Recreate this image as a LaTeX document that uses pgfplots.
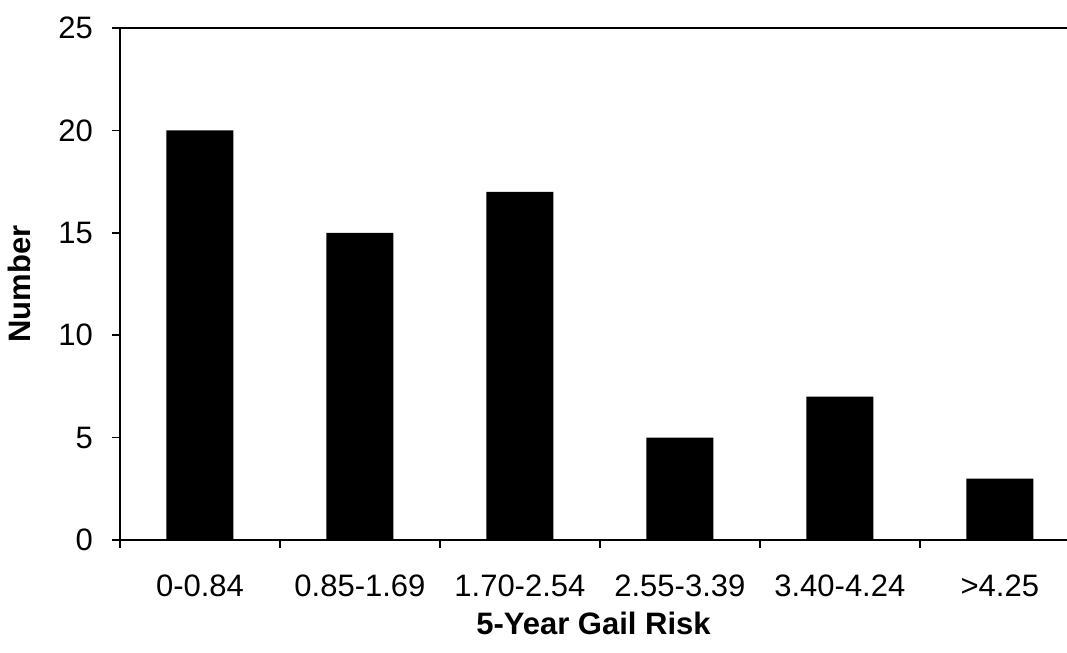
\documentclass[border=0pt]{standalone}
\usepackage{pgfplots}
\pgfplotsset{compat=1.18}
\usepackage{fontspec}
\setmainfont{Liberation Sans}

\begin{document}
\begin{tikzpicture}
  \begin{axis}[
    name=ax,
    scale only axis,
    width=473.5pt, height=256pt,
    axis x line*=box,
    axis y line*=left,
    axis line style={line width=1pt},
    xmin=-0.5, xmax=5.42,
    ymin=0, ymax=25,
    ytick={0,5,...,25},
    xtick={0,...,5},
    xticklabels={0-0.84,0.85-1.69,1.70-2.54,2.55-3.39,3.40-4.24,>4.25},
    minor xtick={-0.5,0.5,1.5,2.5,3.5,4.5},
    xtick pos=left, ytick pos=left,
    tick align=outside,
    major tick length=4pt, minor tick length=4pt,
    major x tick style={draw=none},
    tick style={line width=0.8pt, black},
    /pgf/number format/assume math mode=true,
    tick label style={font=\fontsize{15.5}{18}\selectfont},
    xticklabel style={yshift=-10pt},
    yticklabel style={xshift=-6pt},
    label style={font=\bfseries\fontsize{15.5}{18}\selectfont},
    xlabel={5-Year Gail Risk},
    ylabel={Number},
    xlabel style={yshift=-0.5pt},
    ylabel style={yshift=7pt},
    ybar, bar width=33.5pt,
  ]
  \addplot[fill=black, draw=none] coordinates {
    (0,20) (1,15) (2,17) (3,5) (4,7) (5,3)
  };
  \end{axis}
  \pgfresetboundingbox
  \path ([xshift=-60pt,yshift=-56.5pt]ax.south west) rectangle ([yshift=14pt]ax.north east);
\end{tikzpicture}
\end{document}
